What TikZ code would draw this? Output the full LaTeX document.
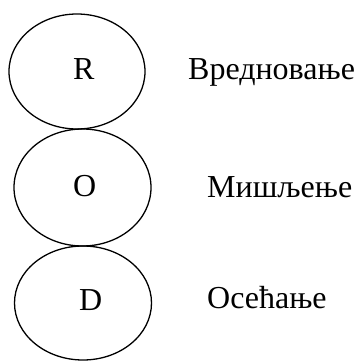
\documentclass[tikz,border=0pt]{standalone}
\usepackage{fontspec}
\setmainfont{Liberation Serif}
\usetikzlibrary{shapes.geometric}
\begin{document}
\begin{tikzpicture}[x=1pt,y=-1pt,
  ring/.style={draw, ellipse, line width=1.3pt, inner sep=0pt},
  txt/.style={inner sep=0pt, anchor=base west, font=\fontsize{32}{38}\selectfont}]
\useasboundingbox (0,0) rectangle (360,361);
\node[ring, minimum width=136pt, minimum height=115pt] (e1) at (77,71.5) {};
\node[ring, minimum width=137pt, minimum height=117pt] (e2) at (82.5,187.5) {};
\node[ring, minimum width=137pt, minimum height=114pt] (e3) at (83,303) {};
\node[txt] (r) at (73,79) {R};
\node[txt] (o) at (73,196.5) {O};
\node[txt] (d) at (79,310) {D};
\node[txt] (l1) at (188,79) {Вредновање};
\node[txt] (l2) at (207,197) {Мишљење};
\node[txt] (l3) at (207,308.5) {Осећање};
\end{tikzpicture}
\end{document}
